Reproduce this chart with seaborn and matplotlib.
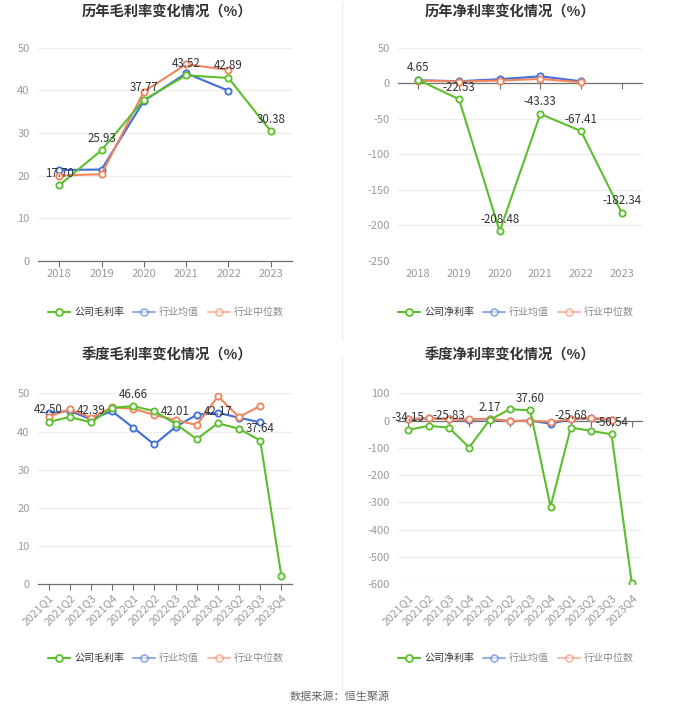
import matplotlib
matplotlib.use("Agg")
import matplotlib.pyplot as plt
import numpy as np
import pandas as pd
import seaborn as sns
from matplotlib.lines import Line2D

sns.set_theme(style="white")
plt.rcParams['font.family'] = ['Noto Sans CJK SC', 'DejaVu Sans']
plt.rcParams['axes.unicode_minus'] = False

years = ['2018', '2019', '2020', '2021', '2022', '2023']
quarters = ['2021Q1', '2021Q2', '2021Q3', '2021Q4', '2022Q1', '2022Q2',
            '2022Q3', '2022Q4', '2023Q1', '2023Q2', '2023Q3', '2023Q4']

# annual gross margin
gm_company = [17.70, 25.93, 37.77, 43.52, 42.89, 30.38]
gm_avg = [21.3, 21.4, 37.5, 44.0, 39.9, np.nan]
gm_median = [20.0, 20.3, 39.7, 46.1, 44.8, np.nan]

# annual net margin
nm_company = [4.65, -22.53, -208.48, -43.33, -67.41, -182.34]
nm_avg = [4.2, 2.8, 5.6, 9.7, 2.8, np.nan]
nm_median = [3.7, 2.3, 3.7, 6.0, 1.4, np.nan]

# quarterly gross margin
qgm_company = [42.50, 43.8, 42.39, 46.2, 46.66, 45.3, 42.01, 38.0, 42.17, 40.7, 37.64, 2.1]
qgm_avg = [44.8, 45.4, 43.2, 45.3, 41.0, 36.6, 41.2, 44.4, 44.9, 43.6, 42.4, np.nan]
qgm_median = [43.9, 45.8, 43.6, 46.3, 46.0, 44.3, 43.0, 41.7, 49.2, 43.8, 46.7, np.nan]

# quarterly net margin
qnm_company = [-34.15, -19.6, -25.83, -99.0, 2.17, 41.5, 37.60, -316.0, -25.68, -38.0, -50.54, -598.0]
qnm_avg = [5, 8, 5, 3, 5, -2, 0, -12, 5, 8, 3, np.nan]
qnm_median = [5, 8, 5, 4, 7, -3, 0, -5, 5, 10, 3, np.nan]

GREEN = '#5bbf2c'
BLUE = '#3f6fd8'
ORANGE = '#f0855d'
GRID = '#ececec'
TICK = '#999999'
AXIS = '#6e6e6e'


def draw(ax, cats, company, avg, median, label_idx, yticks, rotate=False):
    x = np.arange(len(cats))
    df = pd.DataFrame({'x': x, 'company': company, 'avg': avg, 'median': median})
    for col, color, z in [('avg', BLUE, 3), ('median', ORANGE, 4), ('company', GREEN, 5)]:
        d = df[['x', col]].dropna()
        sns.lineplot(data=d, x='x', y=col, ax=ax, color=color, linewidth=1.5,
                     marker='o', markersize=4.5, markerfacecolor='white',
                     markeredgecolor=color, markeredgewidth=1.3, zorder=z)
    for i in label_idx:
        ax.annotate(f'{company[i]:.2f}', (x[i], company[i]), xytext=(0, 4),
                    textcoords='offset points', ha='center', va='bottom',
                    fontsize=8.3, color='#333333', zorder=6)
    ax.set_xlim(-0.5, len(cats) - 0.5)
    ax.set_ylim(yticks[0], yticks[-1])
    ax.set_yticks(yticks)
    ax.set_yticklabels([str(t) for t in yticks])
    ax.set_xlabel('')
    ax.set_ylabel('')
    ax.grid(axis='y', color=GRID, linewidth=0.8)
    ax.grid(axis='x', visible=False)
    for s in ['top', 'right', 'left']:
        ax.spines[s].set_visible(False)
    ax.tick_params(axis='y', length=0, labelsize=8, labelcolor=TICK, pad=6)
    # axis line at zero with tick marks
    ax.spines['bottom'].set_visible(True)
    ax.spines['bottom'].set_position(('data', 0))
    ax.spines['bottom'].set_color(AXIS)
    ax.spines['bottom'].set_linewidth(0.9)
    ax.spines['bottom'].set_zorder(2.5)
    ax.set_xticks(x)
    ax.tick_params(axis='x', bottom=True, length=4, width=0.8, color=AXIS,
                   direction='out', labelbottom=False)
    # category labels at the bottom of the plot area
    sec = ax.secondary_xaxis('bottom')
    sec.set_xticks(x)
    if rotate:
        sec.set_xticklabels(cats, rotation=45, ha='right', rotation_mode='anchor')
    else:
        sec.set_xticklabels(cats)
    sec.tick_params(axis='x', length=0, labelsize=8, labelcolor=TICK, pad=6)
    for s in sec.spines.values():
        s.set_visible(False)


def legend(fig, cx, cy, first):
    items = [(first, GREEN, 1.0, '#333333'), ('行业均值', BLUE, 0.55, '#888888'),
             ('行业中位数', ORANGE, 0.55, '#888888')]
    handles = [Line2D([0], [0], color=c, alpha=a, linewidth=1.5, marker='o', markersize=5,
                      markerfacecolor='white', markeredgecolor=c, markeredgewidth=1.3)
               for _, c, a, _ in items]
    leg = fig.legend(handles, [t for t, _, _, _ in items], loc='center',
                     bbox_to_anchor=(cx, cy), ncol=3, frameon=False, fontsize=7.2,
                     handlelength=2.2, columnspacing=0.9, handletextpad=0.4)
    for txt, (_, _, _, tc) in zip(leg.get_texts(), items):
        txt.set_color(tc)


fig = plt.figure(figsize=(6.8, 7.12), dpi=100)
W, H = 680, 712


def rect(l, r, t, b):
    return [l / W, 1 - b / H, (r - l) / W, (b - t) / H]


ax1 = fig.add_axes(rect(38, 292, 47.7, 260.7))
ax2 = fig.add_axes(rect(398, 642, 47.7, 260.7))
ax3 = fig.add_axes(rect(38, 292, 393.3, 584.3))
ax4 = fig.add_axes(rect(398, 642, 393.3, 584.0))

draw(ax1, years, gm_company, gm_avg, gm_median, range(6), list(range(0, 51, 10)))
draw(ax2, years, nm_company, nm_avg, nm_median, range(6), list(range(-250, 51, 50)))
draw(ax3, quarters, qgm_company, qgm_avg, qgm_median, [0, 2, 4, 6, 8, 10],
     list(range(0, 51, 10)), rotate=True)
draw(ax4, quarters, qnm_company, qnm_avg, qnm_median, [0, 2, 4, 6, 8, 10],
     list(range(-600, 101, 100)), rotate=True)

titles = [('历年毛利率变化情况（%）', 167, 12), ('历年净利率变化情况（%）', 510, 12),
          ('季度毛利率变化情况（%）', 167, 355), ('季度净利率变化情况（%）', 510, 355)]
for t, x, y in titles:
    fig.text(x / W, 1 - y / H, t, ha='center', va='center', fontsize=10.3,
             fontweight='bold', color='#333333')

legend(fig, 166 / W, 1 - 312 / H, '公司毛利率')
legend(fig, 516 / W, 1 - 312 / H, '公司净利率')
legend(fig, 166 / W, 1 - 658 / H, '公司毛利率')
legend(fig, 516 / W, 1 - 658 / H, '公司净利率')

fig.add_artist(Line2D([342 / W, 342 / W], [1 - 2 / H, 1 - 340 / H], color='#f0f0f0', linewidth=1))
fig.add_artist(Line2D([342 / W, 342 / W], [1 - 356 / H, 1 - 690 / H], color='#f0f0f0', linewidth=1))

fig.text(340 / W, 1 - 697 / H, '数据来源：恒生聚源', ha='center', va='center',
         fontsize=8, color='#666666')

fig.savefig('out.png', dpi=100)
